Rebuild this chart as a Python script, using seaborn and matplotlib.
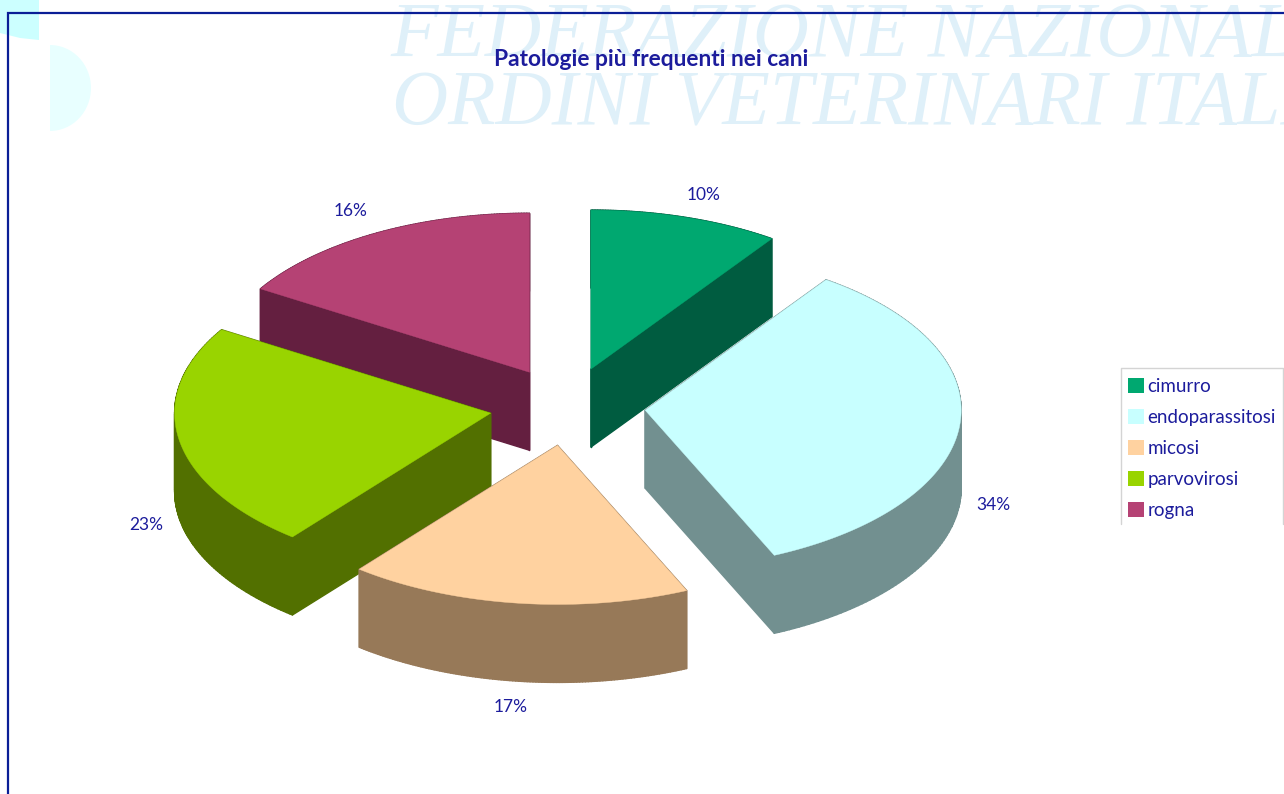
import numpy as np
import matplotlib
matplotlib.use("Agg")
import matplotlib.pyplot as plt
from matplotlib.collections import PolyCollection
from matplotlib.patches import Patch, Ellipse, Rectangle
import seaborn as sns

# values (labels show them rounded)
categories = ["cimurro", "endoparassitosi", "micosi", "parvovirosi", "rogna"]
shares = [9.7, 33.6, 17.49, 23.0, 16.21]
colors = ["#00A870", "#C8FFFF", "#FFD2A0", "#99D400", "#B54274"]
side_colors = ["#005C40", "#729090", "#977958", "#527000", "#641F40"]
label_pos = [(704, 195), (993, 505), (511, 707), (146, 525), (351, 211)]

title = "Patologie più frequenti nei cani"
watermark = ["FEDERAZIONE NAZIONALE", "ORDINI VETERINARI ITALIANI"]

INK = "#1C1C9C"
CX, CY = 567.5, 406.5    # centre of the pie
RX, RY = 316, 159        # radii of the tilted disc
EXPLODE = 78
DEPTH = 78

sns.set_theme(style="white")
plt.rcParams["font.family"] = ["Lato", "DejaVu Sans"]
palette = sns.color_palette(colors)

fig = plt.figure(figsize=(12.84, 7.94), dpi=100)
ax = fig.add_axes([0, 0, 1, 1])
ax.set_xlim(0, 1284)
ax.set_ylim(794, 0)
ax.axis("off")

# background picture: logo pieces and the pale heading
ax.fill([0, 39, 39, 20, 0], [0, 0, 40, 38, 33], color="#CCFFFF", lw=0, zorder=0)
ax.add_patch(Ellipse((50, 88), 82, 86, fc="#E8FFFF", lw=0, zorder=0))
ax.add_patch(Rectangle((0, 41), 50, 100, fc="white", lw=0, zorder=0))
ax.text(390, 56, watermark[0], family="Liberation Serif", style="italic", fontsize=56,
        color="#DFF0F9", va="baseline", zorder=0)
ax.text(392, 125, watermark[1], family="Liberation Serif", style="italic", fontsize=56,
        color="#DFF0F9", va="baseline", zorder=0)

# frame of the page
ax.plot([8, 8, 1284], [794, 13, 13], color="#0A1E96", lw=1.6, zorder=1, solid_joinstyle="miter")

# slices, with angles measured clockwise from 12 o'clock
edges = np.cumsum([0] + shares) / sum(shares) * 2 * np.pi
slices = []
for i in range(len(shares)):
    start, end = edges[i], edges[i + 1]
    mid = (start + end) / 2
    apex = (CX + EXPLODE * np.sin(mid), CY - EXPLODE * RY / RX * np.cos(mid))
    slices.append((apex[1], i, start, end, apex))

# back to front, so the nearer slices cover the walls behind them
for _, i, start, end, apex in sorted(slices):
    t = np.linspace(start, end, 120)
    arc_x = apex[0] + RX * np.sin(t)
    arc_y = apex[1] - RY * np.cos(t)
    # one quad per step of the outline: two cut walls and the curved wall
    out_x = np.r_[apex[0], arc_x, apex[0]]
    out_y = np.r_[apex[1], arc_y, apex[1]]
    quads = [[(out_x[k], out_y[k]), (out_x[k + 1], out_y[k + 1]),
              (out_x[k + 1], out_y[k + 1] + DEPTH), (out_x[k], out_y[k] + DEPTH)]
             for k in range(len(out_x) - 1)]
    ax.add_collection(PolyCollection(quads, facecolors=side_colors[i], edgecolors=side_colors[i], lw=1, zorder=2))
    ax.fill(out_x, out_y, color=palette[i], lw=0.3, zorder=2)

for (x, y), share in zip(label_pos, shares):
    ax.text(x, y, f"{share:.0f}%", color=INK, fontsize=12.5, ha="center", va="center", zorder=3)

ax.text(651.5, 60, title, color=INK, fontsize=16.4, fontweight="bold", ha="center", va="center", zorder=3)

# legend, its box is cut off at the bottom like in the original
ax.plot([1121, 1121, 1283, 1283], [524, 368, 368, 524], color="#D4D4D4", lw=1, zorder=3)
handles = [Patch(fc=c, ec="none", label=n) for c, n in zip(palette, categories)]
ax.legend(handles=handles, loc="upper left", bbox_to_anchor=(1128, 378), bbox_transform=ax.transData,
          frameon=False, fontsize=13.5, labelcolor=INK, borderpad=0, borderaxespad=0,
          handlelength=0.85, handleheight=0.85, handletextpad=0.19, labelspacing=0.75)

fig.savefig("out.png", dpi=100)
